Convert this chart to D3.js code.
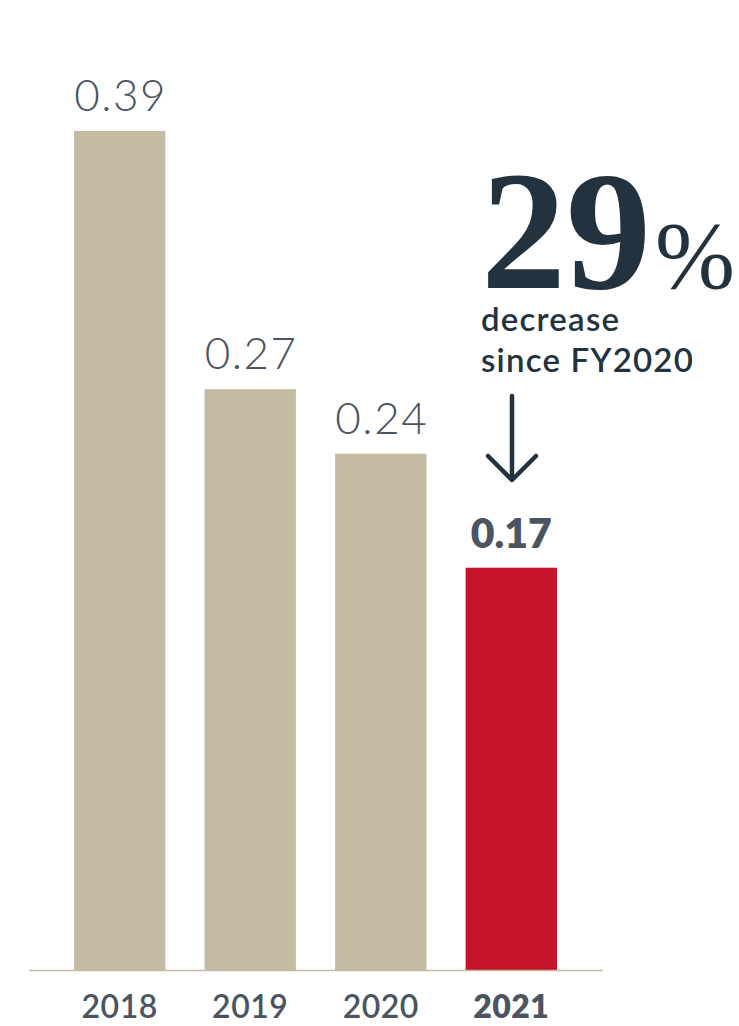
<!DOCTYPE html>
<html>
<head>
<meta charset="utf-8">
<script src="https://cdn.jsdelivr.net/npm/d3@7"></script>
<style>
  html, body { margin: 0; padding: 0; background: #fff; }
  svg { display: block; }
</style>
</head>
<body>
<svg id="chart" width="739" height="1026"></svg>
<script>
// ---- data ----
const years = ["2018", "2019", "2020", "2021"];
const barValues = [0.39, 0.27, 0.24, 0.187];   // bar heights as drawn in the picture
const valueLabels = ["0.39", "0.27", "0.24", "0.17"];
const highlight = ["2021"];
const bigStat = "29";
const bigStatUnit = "%";
const statLines = ["decrease", "since FY2020"];

// ---- setup ----
const svg = d3.select("#chart");
const beige = "#c3bca3";
const red = "#c8132d";
const textGray = "#4b5461";
const navy = "#22333f";
const sans = "Lato, 'Open Sans', sans-serif";

const x = d3.scaleBand().domain(years).range([74, 557]).paddingInner(0.3).paddingOuter(0);
const y = d3.scaleLinear().domain([0, 0.39]).range([970, 131]);

const data = years.map((yr, i) => ({ year: yr, value: barValues[i], label: valueLabels[i], hl: highlight.includes(yr) }));

// bars
svg.selectAll("rect.bar").data(data).join("rect")
  .attr("class", "bar")
  .attr("x", d => x(d.year))
  .attr("width", x.bandwidth())
  .attr("y", d => y(d.value))
  .attr("height", d => y(0) - y(d.value))
  .attr("fill", d => d.hl ? red : beige);

// baseline
svg.append("line")
  .attr("x1", x.range()[0] - 45).attr("x2", x.range()[1] + 46)
  .attr("y1", y(0) + 0.5).attr("y2", y(0) + 0.5)
  .attr("stroke", beige).attr("stroke-width", 1.5);

// value labels
svg.selectAll("text.val").data(data).join("text")
  .attr("class", "val")
  .attr("x", d => x(d.year) + x.bandwidth() / 2 + (d.hl ? 0 : 1))
  .attr("y", d => y(d.value) - 20)
  .attr("text-anchor", "middle")
  .attr("font-family", sans)
  .attr("font-weight", d => d.hl ? 800 : 300)
  .attr("font-size", d => d.hl ? 41 : 44)
  .attr("letter-spacing", d => d.hl ? 0 : 1.5)
  .attr("fill", textGray)
  .text(d => d.label);

// year labels (axis)
const xAxis = d3.axisBottom(x).tickSize(0).tickPadding(0);
const gx = svg.append("g").attr("transform", `translate(0, ${y(0)})`).call(xAxis);
gx.select(".domain").remove();
gx.selectAll(".tick text")
  .attr("y", 48)
  .attr("dy", 0)
  .attr("font-family", sans)
  .attr("font-size", 32)
  .attr("letter-spacing", 0.5)
  .attr("font-weight", d => highlight.includes(d) ? 800 : 600)
  .attr("fill", textGray);

// big stat
const statX = 481;
const big = svg.append("text")
  .attr("x", statX).attr("y", 288)
  .attr("font-family", "'Liberation Serif', 'DejaVu Serif', serif")
  .attr("font-weight", 700)
  .attr("font-size", 170)
  .attr("fill", navy)
  .attr("letter-spacing", 0)
  .text(bigStat);
big.append("tspan")
  .attr("font-size", 96)
  .attr("font-weight", 400)
  .attr("dx", 4)
  .text(bigStatUnit);

svg.selectAll("text.stat").data(statLines).join("text")
  .attr("class", "stat")
  .attr("x", statX)
  .attr("y", (d, i) => 331 + i * 41)
  .attr("font-family", sans)
  .attr("font-weight", 600)
  .attr("font-size", 33)
  .attr("letter-spacing", 1.2)
  .attr("fill", navy)
  .text(d => d);

// arrow
const arrowX = 512;
const arrow = svg.append("g")
  .attr("stroke", navy).attr("stroke-width", 4.5)
  .attr("stroke-linecap", "round").attr("stroke-linejoin", "round").attr("fill", "none");
arrow.append("line").attr("x1", arrowX).attr("x2", arrowX).attr("y1", 396).attr("y2", 479);
arrow.append("path").attr("d", d3.line()([[arrowX - 24, 456], [arrowX, 480], [arrowX + 24, 456]]));
</script>
</body>
</html>
